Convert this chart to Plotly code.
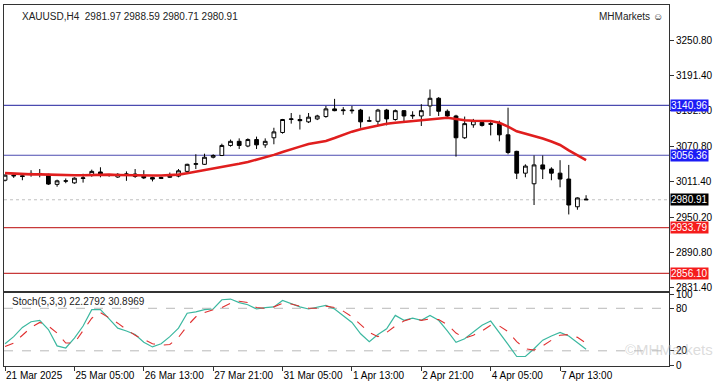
import plotly.graph_objects as go

# ---------------- data ----------------
tick_pos = [0, 8, 16, 24, 32, 40, 48, 56, 64]
tick_labels = ["21 Mar 2025", "25 Mar 05:00", "26 Mar 13:00", "27 Mar 21:00",
               "31 Mar 05:00", "1 Apr 13:00", "2 Apr 21:00", "4 Apr 05:00", "7 Apr 13:00"]

opens = [3014, 3022.6, 3021.5, 3024, 3025.5, 3024, 3007, 3013, 3009.5, 3017,
         3022, 3028, 3023, 3019.5, 3024, 3024.5, 3021, 3018.5, 3017, 3019,
         3021, 3029, 3041, 3041, 3053, 3056, 3073, 3080, 3072, 3083,
         3074, 3086, 3095, 3117, 3117, 3113, 3118, 3122, 3135, 3132,
         3133, 3133, 3114, 3114, 3133, 3117, 3132, 3123, 3123, 3140,
         3153, 3131, 3123, 3086, 3108, 3112, 3110, 3110, 3091, 3063,
         3026, 3008, 3040, 3033, 3026, 3016, 2969, 2981.97]
highs = [3024, 3025, 3023, 3031, 3033, 3025, 3015, 3017, 3019, 3025,
         3032, 3036, 3024.5, 3026, 3029, 3033, 3031, 3020, 3020, 3027,
         3033, 3042, 3058, 3059, 3058, 3076, 3083, 3085, 3085, 3088,
         3085, 3103, 3118, 3128, 3125, 3128, 3125, 3140, 3152, 3138,
         3140, 3135, 3122, 3135, 3135, 3134, 3133, 3131, 3143, 3168,
         3155, 3134, 3125, 3122, 3118, 3114, 3113, 3115, 3137, 3064,
         3041, 3056, 3056, 3036, 3048, 3040, 2985, 2988.59]
lows = [3012, 3018, 3014, 3020, 3019, 3006, 3003, 3009, 3008, 3010,
        3020, 3019, 3020, 3018, 3013, 3018, 3016, 3012, 3016, 3018,
        3019, 3027, 3033, 3040, 3051, 3055, 3071, 3067, 3070, 3067,
        3069, 3075, 3093, 3110, 3100, 3111, 3116, 3120, 3131, 3125,
        3127, 3103, 3113, 3106, 3107, 3115, 3113, 3118, 3106, 3123,
        3123, 3118, 3054, 3084, 3103, 3105, 3090, 3080, 3058, 3016,
        3019, 2972, 3016, 3014, 3002, 2956, 2964, 2980.71]
closes = [3022.6, 3021.5, 3020.5, 3025.5, 3024, 3007.5, 3013, 3012.5, 3017.5, 3018,
          3029, 3023, 3022.5, 3024, 3024.5, 3020.5, 3018, 3016, 3018.5, 3021,
          3030, 3041, 3042, 3053, 3056, 3073, 3080, 3073, 3083, 3074,
          3080, 3096, 3117, 3118, 3115, 3121, 3123, 3135, 3132, 3133,
          3132, 3113, 3115, 3133, 3118, 3132, 3123, 3124, 3132, 3153,
          3131, 3123, 3086, 3110, 3115, 3107, 3109, 3091, 3061, 3026,
          3038, 3040, 3033, 3026, 3016, 2972, 2984, 2980.91]

ma_values = [3026, 3025, 3024.3, 3024, 3024, 3023.5, 3022.6, 3022.6, 3022.5, 3022.5,
             3023, 3023.5, 3023.5, 3023, 3022.5, 3022.5, 3022.5, 3022, 3022, 3022.5,
             3023.5, 3026, 3028.5, 3031, 3033.5, 3036, 3038.5, 3042, 3045, 3048.6,
             3052.8, 3057, 3062, 3067, 3071, 3075.5, 3078, 3080.5, 3085.5, 3091.4,
             3096.4, 3100.6, 3104, 3107.3, 3109.8, 3111.5, 3113, 3115, 3116, 3117.4,
             3119, 3120, 3118, 3115.7, 3115, 3115, 3114.4, 3111.5, 3105, 3097,
             3093, 3089, 3084.7, 3079.6, 3073.8, 3064.5, 3056, 3048]

stoch_k = [30, 40, 53, 61, 63, 50, 27, 24, 38, 55,
           78, 78, 65, 52, 48, 43, 32, 25.5, 30, 40,
           52, 73, 75, 78, 79, 92, 93, 88, 85, 79,
           81, 82, 91, 86, 82, 79, 82, 84, 79, 70,
           60, 44, 33, 43, 51, 70, 63, 66, 63, 70,
           63, 48, 32, 37, 47, 56, 62, 46, 29, 12,
           12, 23, 35, 41, 46, 41, 32, 22.2792]
stoch_d = [26, 31, 42, 53, 60, 55, 45, 31, 31, 48,
           66, 74, 67, 59, 50, 42, 36, 30, 28, 29,
           39, 55, 68, 74, 78, 81, 87, 90, 88, 81,
           80, 82, 87, 86, 83, 80, 80, 83, 81, 76,
           68, 57, 46, 40, 46, 55, 62, 66, 63, 65,
           64, 57, 45, 38, 42, 48, 56, 55, 47, 33,
           23, 21, 27, 35, 42, 43, 39, 30.8969]

price_ticks = [3250.80, 3191.40, 3132.00, 3070.80, 3011.40, 2950.20, 2890.80, 2831.40]
blue_levels = [3140.96, 3056.36]
red_levels = [2933.79, 2856.10]
last_price = 2980.91
stoch_levels = [80, 20]
stoch_ticks = [100, 80, 20, 0]

# ---------------- figure ----------------
x = list(range(len(closes)))
FONT = "Liberation Sans, Arial, sans-serif"

fig = go.Figure()
fig.add_trace(go.Candlestick(
    x=x, open=opens, high=highs, low=lows, close=closes,
    increasing=dict(line=dict(color="black", width=1), fillcolor="white"),
    decreasing=dict(line=dict(color="black", width=1), fillcolor="black"),
    whiskerwidth=0, xaxis="x", yaxis="y", showlegend=False, hoverinfo="skip"))
fig.add_trace(go.Scatter(x=x, y=ma_values, mode="lines",
                         line=dict(color="#e01e1e", width=2.6),
                         xaxis="x", yaxis="y", showlegend=False, hoverinfo="skip"))
fig.add_trace(go.Scatter(x=x, y=stoch_k, mode="lines",
                         line=dict(color="#3cb8a0", width=1.2),
                         xaxis="x2", yaxis="y2", showlegend=False, hoverinfo="skip"))
fig.add_trace(go.Scatter(x=x, y=stoch_d, mode="lines",
                         line=dict(color="#e03030", width=1.1, dash="dash"),
                         xaxis="x2", yaxis="y2", showlegend=False, hoverinfo="skip"))

shapes = []
for lv in blue_levels:
    shapes.append(dict(type="line", xref="paper", x0=0, x1=1, yref="y", y0=lv, y1=lv,
                       line=dict(color="#4b4bb0", width=1.2), layer="below"))
for lv in red_levels:
    shapes.append(dict(type="line", xref="paper", x0=0, x1=1, yref="y", y0=lv, y1=lv,
                       line=dict(color="#c83a3a", width=1.2), layer="below"))
shapes.append(dict(type="line", xref="paper", x0=0, x1=1, yref="y", y0=last_price, y1=last_price,
                   line=dict(color="#c0c0c0", width=1, dash="dot"), layer="below"))
for lv in stoch_levels:
    shapes.append(dict(type="line", xref="paper", x0=0, x1=1, yref="y2", y0=lv, y1=lv,
                       line=dict(color="#b8b8b8", width=1, dash="dash"), layer="below"))

annotations = []
box_specs = [(blue_levels[0], "#1c1cf5"), (blue_levels[1], "#1c1cf5"),
             (last_price, "#000000"), (red_levels[0], "#f51c1c"), (red_levels[1], "#f51c1c")]
for val, col in box_specs:
    annotations.append(dict(xref="paper", x=1, xanchor="left", xshift=1,
                            yref="y", y=val, yanchor="middle",
                            text=f"{val:.2f}", showarrow=False,
                            font=dict(family=FONT, size=10, color="white"),
                            bgcolor=col, borderpad=0))
annotations.append(dict(xref="paper", x=0.024, xanchor="left", yref="paper", y=0.967,
                        yanchor="middle", showarrow=False,
                        text=f"XAUUSD,H4  {opens[-1]:.2f} {highs[-1]:.2f} {lows[-1]:.2f} {closes[-1]:.2f}",
                        font=dict(family=FONT, size=10, color="#222")))
annotations.append(dict(xref="paper", x=0.994, xanchor="right", yref="paper", y=0.967,
                        yanchor="middle", showarrow=False, text="MHMarkets ☺",
                        font=dict(family=FONT, size=10, color="#222")))
annotations.append(dict(xref="paper", x=0.009, xanchor="left", yref="paper", y=0.178,
                        yanchor="middle", showarrow=False,
                        text=f"Stoch(5,3,3) {stoch_k[-1]:.4f} {stoch_d[-1]:.4f}",
                        font=dict(family=FONT, size=10, color="#222")))
annotations.append(dict(xref="paper", x=1.0, xanchor="center", yref="paper", y=0.045,
                        yanchor="middle", showarrow=False, text="©MHMarkets",
                        font=dict(family=FONT, size=15, color="rgba(185,185,185,0.5)")))

xr = [-0.12, 76.56]
fig.update_layout(
    width=720, height=389,
    margin=dict(l=4, r=51, t=1, b=23),
    paper_bgcolor="white", plot_bgcolor="white",
    font=dict(family=FONT, size=10, color="black"),
    boxgap=0.38,
    hovermode=False,
    shapes=shapes, annotations=annotations,
    xaxis=dict(domain=[0, 1], anchor="y", range=xr, showgrid=False, zeroline=False,
               showticklabels=False, ticks="", showline=True, mirror=True,
               linecolor="#333", linewidth=1, rangeslider=dict(visible=False)),
    yaxis=dict(domain=[0.208, 1], anchor="x", side="right", range=[2826.3, 3311.2],
               tickvals=price_ticks, ticktext=[f"{v:.2f}" for v in price_ticks],
               ticks="outside", ticklen=4, tickcolor="#333",
               showgrid=False, zeroline=False, showline=True, mirror=True,
               linecolor="#333", linewidth=1),
    xaxis2=dict(domain=[0, 1], anchor="y2", range=xr, showgrid=False, zeroline=False,
                tickvals=tick_pos, ticktext=tick_labels, ticks="outside", ticklen=4,
                tickcolor="#333", ticklabelposition="outside right",
                showline=True, mirror=True, linecolor="#333", linewidth=1),
    yaxis2=dict(domain=[0, 0.2027], anchor="x2", side="right", range=[-1.4, 101.8],
                tickvals=stoch_ticks, ticktext=[str(v) for v in stoch_ticks],
                ticks="outside", ticklen=4, tickcolor="#333",
                showgrid=False, zeroline=False, showline=True, mirror=True,
                linecolor="#333", linewidth=1),
)

fig.write_html("out.html", config={"displayModeBar": False},
               post_script="document.body.style.margin='0';document.body.style.overflow='hidden';")
